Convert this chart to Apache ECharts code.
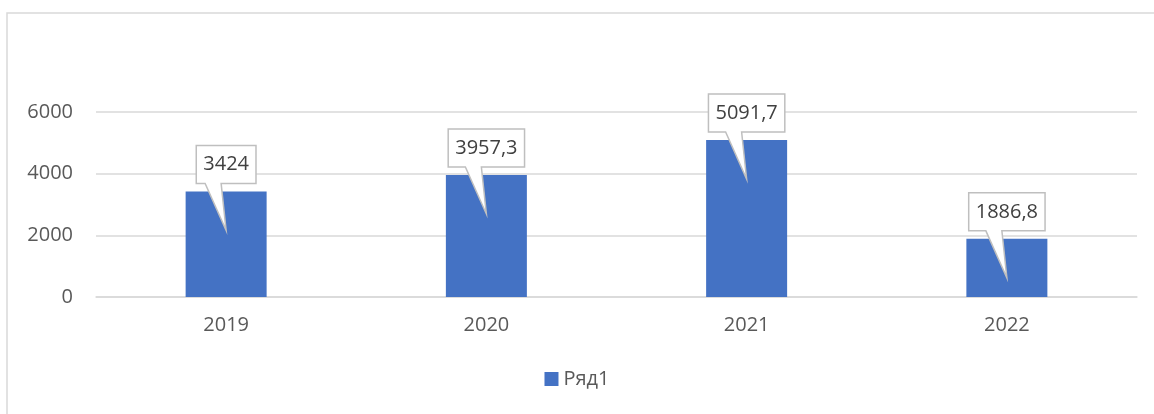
<!DOCTYPE html>
<html>
<head>
<meta charset="utf-8">
<script src="https://cdn.jsdelivr.net/npm/echarts@6/dist/echarts.min.js"></script>
<style>
  html, body { margin: 0; padding: 0; background: #fff; }
  #chart { width: 1154px; height: 414px; }
</style>
</head>
<body>
<div id="chart"></div>
<script>
const years = ['2019', '2020', '2021', '2022']
const values = [3424, 3957.3, 5091.7, 1886.8]
const seriesName = 'Ряд1'

const labelFont = '20px "Open Sans", "Liberation Sans", sans-serif'
const measureCtx = document.createElement('canvas').getContext('2d')
measureCtx.font = labelFont

function fmt (v) {
  return String(v).replace('.', ',')
}

const chart = echarts.init(document.getElementById('chart'))

// callout label: box above the bar, tail pointing into the bar
function renderCallout (params, api) {
  const idx = api.value(0)
  const val = api.value(1)
  const top = api.coord([idx, val])
  const cx = top[0]
  const text = fmt(val)
  const w = measureCtx.measureText(text).width + 14
  const h = 38
  const x0 = cx - w / 2
  const x1 = cx + w / 2
  const y1 = top[1] - 8
  const y0 = y1 - h
  const tip = [cx, top[1] + 39]
  return {
    type: 'group',
    children: [
      {
        type: 'polygon',
        shape: {
          points: [[x0, y0], [x1, y0], [x1, y1], [cx - 5, y1], tip, [cx - 21, y1], [x0, y1]]
        },
        style: { fill: '#fff', stroke: '#bfbfbf', lineWidth: 1.5 }
      },
      {
        type: 'text',
        style: {
          text: text,
          x: cx,
          y: (y0 + y1) / 2,
          align: 'center',
          verticalAlign: 'middle',
          font: labelFont,
          fill: '#404040'
        }
      }
    ]
  }
}

const option = {
  backgroundColor: '#fff',
  animation: false,
  graphic: [{
    type: 'rect',
    shape: { x: 7, y: 13, width: 1170, height: 430 },
    style: { fill: 'none', stroke: '#d9d9d9', lineWidth: 1.5 },
    silent: true
  }],
  grid: { left: 96, right: 17, top: 112, bottom: 117 },
  legend: {
    data: [seriesName],
    bottom: 20,
    left: 'center',
    itemWidth: 14,
    itemHeight: 14,
    icon: 'rect',
    itemGap: 6,
    textStyle: { fontFamily: '"Open Sans", sans-serif', fontSize: 20, color: '#595959' }
  },
  xAxis: {
    type: 'category',
    data: years,
    axisLine: { lineStyle: { color: '#d9d9d9', width: 1.5 } },
    axisTick: { show: false },
    axisLabel: { fontFamily: '"Open Sans", sans-serif', fontSize: 20, color: '#595959', margin: 18 }
  },
  yAxis: {
    type: 'value',
    min: 0,
    max: 6000,
    interval: 2000,
    axisLine: { show: false },
    axisTick: { show: false },
    splitLine: { lineStyle: { color: '#d9d9d9', width: 1.5 } },
    axisLabel: {
      fontFamily: '"Open Sans", sans-serif',
      fontSize: 20,
      color: '#595959',
      margin: 23,
      formatter: v => String(v)
    }
  },
  series: [
    {
      name: seriesName,
      type: 'bar',
      data: values,
      barWidth: 81,
      itemStyle: { color: '#4472c4' }
    },
    {
      type: 'custom',
      renderItem: renderCallout,
      data: values.map((v, i) => [i, v]),
      z: 10,
      silent: true
    }
  ]
}

chart.setOption(option)
</script>
</body>
</html>
